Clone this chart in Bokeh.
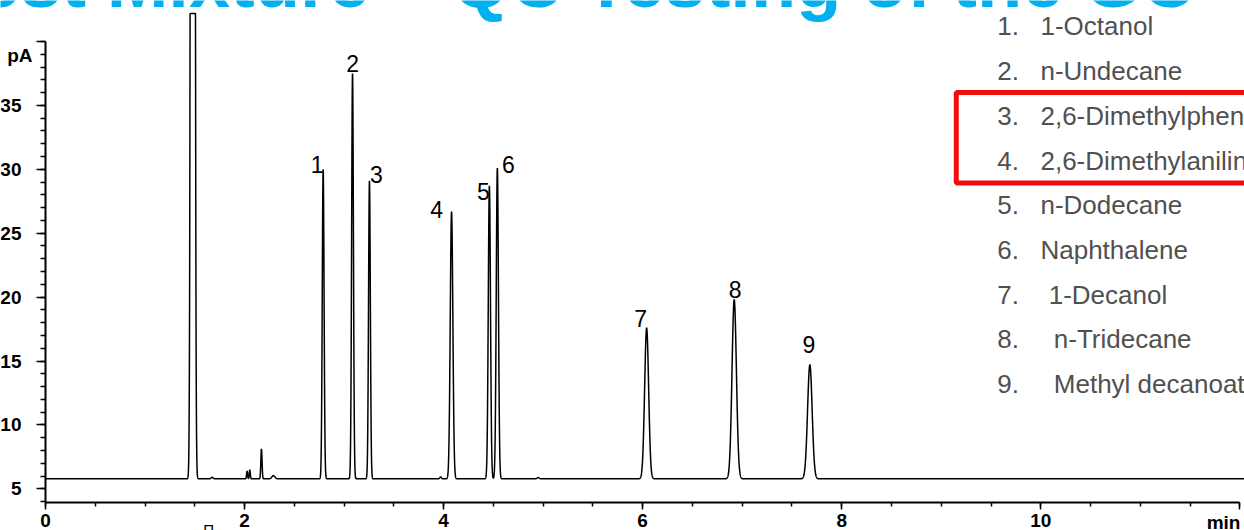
import numpy as np
from bokeh.plotting import figure
from bokeh.models import Range1d, FixedTicker, Label, BoxAnnotation, ColumnDataSource
from bokeh.core.properties import value
from bokeh.embed import file_html
from bokeh.resources import INLINE

# --- peak table of the test mixture (retention time min, apex pA, sigma min)
peak_ids = ["1", "2", "3", "4", "5", "6", "7", "8", "9"]
peak_rt = [2.79, 3.085, 3.255, 4.08, 4.46, 4.54, 6.04, 6.92, 7.68]
peak_apex = [30.0, 37.5, 29.1, 26.7, 28.7, 30.1, 17.6, 19.8, 14.7]
peak_sigma = [0.009, 0.009, 0.009, 0.013, 0.011, 0.011, 0.020, 0.022, 0.023]

# small unlabelled responses (rt min, height above baseline pA, sigma min)
minor_rt = [1.675, 2.026, 2.053, 2.17, 2.29, 3.97, 4.95]
minor_height = [0.12, 0.6, 0.7, 2.35, 0.25, 0.15, 0.1]
minor_sigma = [0.010, 0.005, 0.005, 0.006, 0.015, 0.008, 0.010]

# solvent front, saturating the detector
solvent_rt = 1.48
solvent_height = 500.0
solvent_sigma = 0.012
detector_max = 42.2
baseline_pa = 5.78

compounds = ["1-Octanol", "n-Undecane", "2,6-Dimethylphenol",
             "2,6-Dimethylaniline", "n-Dodecane", "Naphthalene",
             "1-Decanol", "n-Tridecane", "Methyl decanoate"]

y_ticks = [5, 10, 15, 20, 25, 30, 35, 40]
x_ticks = [0, 2, 4, 6, 8, 10, 12]

# --- build the detector trace
t = np.arange(0.0, 12.05, 0.001)
signal = np.full_like(t, baseline_pa)
for rt, apex, s in zip(peak_rt, peak_apex, peak_sigma):
    signal += (apex - baseline_pa) * np.exp(-0.5 * ((t - rt) / s) ** 2)
for rt, h, s in zip(minor_rt, minor_height, minor_sigma):
    signal += h * np.exp(-0.5 * ((t - rt) / s) ** 2)
signal += solvent_height * np.exp(-0.5 * ((t - solvent_rt) / solvent_sigma) ** 2)
signal = np.minimum(signal, detector_max)

FONT = "Liberation Sans"

# the plotting frame spans the whole canvas; axes sit at fixed locations
p = figure(width=1244, height=530, output_backend="svg", toolbar_location=None,
           x_range=Range1d(-0.452, 12.047), y_range=Range1d(1.737, 43.21),
           min_border_left=0, min_border_right=0, min_border_top=0,
           min_border_bottom=0, background_fill_color="white",
           border_fill_color="white", outline_line_color=None)
p.grid.visible = False

p.line(t, signal, line_color="black", line_width=1.5)

# peak numbers (offsets in screen pixels, positive = down)
label_dx = [-6, 0, 7, -15, -6, 11, -6, 1, -1]
label_dy = [-5, -10, -6, -2, 6, -4, -9, -10, -20]
lab_src = ColumnDataSource(dict(x=peak_rt, y=peak_apex, text=peak_ids,
                                dx=label_dx, dy=label_dy))
p.text(x="x", y="y", text="text", x_offset="dx", y_offset="dy", source=lab_src,
       text_font=value(FONT), text_font_size="23px", text_color="black",
       text_align="center", text_baseline="middle")

# compound list
row_y = [41.18 - 3.498 * i for i in range(len(compounds))]
indent = [0, 0, 0, 0, 0, 0, 0.083, 0.134, 0.134]
num_src = ColumnDataSource(dict(x=[9.562] * len(compounds), y=row_y,
                                text=[f"{i + 1}." for i in range(len(compounds))]))
name_src = ColumnDataSource(dict(x=[9.997 + d for d in indent], y=row_y, text=compounds))
for src in (num_src, name_src):
    p.text(x="x", y="y", text="text", source=src, text_font=value(FONT),
           text_font_size="26px", text_color="#505050",
           text_align="left", text_baseline="middle")

p.add_layout(BoxAnnotation(left=9.151, right=13.0, top=36.01, bottom=28.93,
                           fill_alpha=0, line_alpha=1, line_color="#f20d0d",
                           line_width=5))

# title
p.add_layout(Label(x=-1.065, y=44.69, text="Test Mixture \u2013 QC Testing of the GC",
                   text_font=FONT, text_font_size="74px", text_font_style="bold",
                   text_color="#00b0f0", text_baseline="middle"))

# axes
for ax in (p.xaxis[0], p.yaxis[0]):
    ax.axis_line_width = 2
    ax.axis_line_color = "black"
    ax.major_tick_line_width = 1.5
    ax.minor_tick_line_width = 1.5
    ax.major_tick_line_color = "black"
    ax.minor_tick_line_color = "black"
    ax.major_tick_in = 0
    ax.minor_tick_in = 0
    ax.major_label_text_font = FONT
    ax.major_label_text_font_size = "19px"
    ax.major_label_text_font_style = "bold"
    ax.major_label_text_color = "black"

p.xaxis.fixed_location = 3.93
p.xaxis.ticker = FixedTicker(ticks=x_ticks, minor_ticks=list(np.arange(0, 12.01, 0.5)))
p.xaxis.bounds = (0, 12)
p.xaxis.major_tick_out = 7
p.xaxis.minor_tick_out = 4
p.xaxis.major_label_standoff = 5
p.xaxis.major_label_overrides = {12: ""}

p.yaxis.fixed_location = 0
p.yaxis.ticker = FixedTicker(ticks=y_ticks, minor_ticks=list(range(4, 41)))
p.yaxis.bounds = (3.93, 40)
p.yaxis.major_tick_out = 9
p.yaxis.minor_tick_out = 5
p.yaxis.major_label_standoff = 15
p.yaxis.major_label_overrides = {40: ""}

p.add_layout(Label(x=0, y=38.9, x_offset=-13, text="pA", text_font=FONT,
                   text_font_size="19px", text_font_style="bold", text_color="black",
                   text_align="right", text_baseline="middle"))
p.add_layout(Label(x=12.006, y=2.36, text="min", text_font=FONT,
                   text_font_size="19px", text_font_style="bold", text_color="black",
                   text_align="right", text_baseline="middle"))
p.add_layout(Label(x=1.64, y=1.85, text="\u03a0", text_font=FONT,
                   text_font_size="15px", text_color="black", text_align="center",
                   text_baseline="middle"))

open("out.html", "w").write(file_html(p, INLINE))
